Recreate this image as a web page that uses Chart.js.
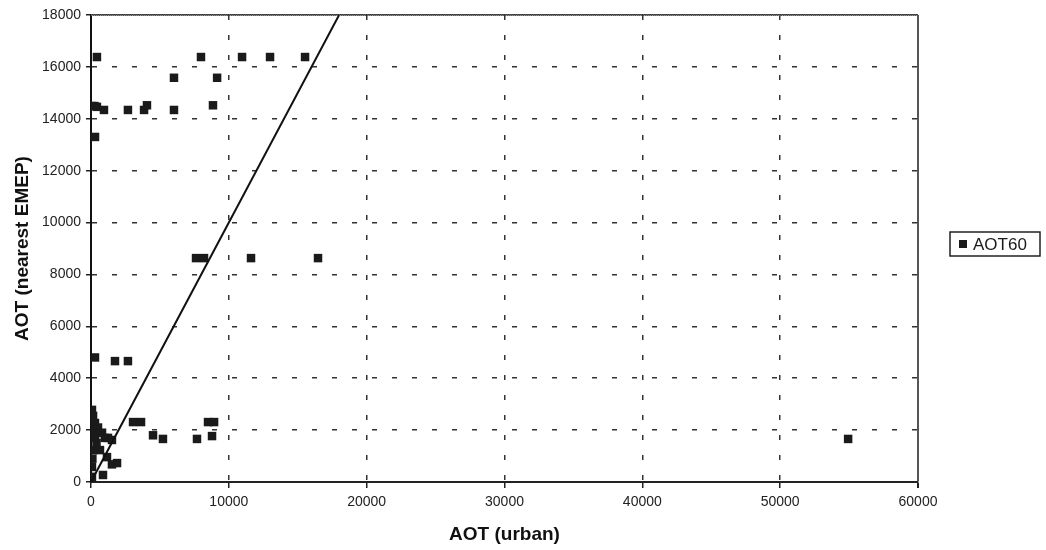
<!DOCTYPE html>
<html>
<head>
<meta charset="utf-8">
<script src="https://cdn.jsdelivr.net/npm/chart.js@4/dist/chart.umd.min.js"></script>
<style>
  body { margin: 0; background: #fff; }
  #wrap { width: 1046px; height: 550px; }
</style>
</head>
<body>
<div id="wrap"><canvas id="chart" width="1046" height="550"></canvas></div>
<script>
// AOT60 points: urban value (x) vs nearest EMEP station (y)
const urbanAot = [
  430, 7980, 10960, 12990, 15530,
  6020, 9150,
  70, 250, 430, 940, 2680, 3850, 4060, 6020, 8850,
  290,
  7620, 8200, 11610, 16470,
  290, 1740, 2680,
  3050, 3630, 8490, 8930,
  4500, 5220, 7690, 8780, 54930,
  70, 150, 290, 510, 800, 1230, 1520, 70, 100, 300, 400, 1000,
  150, 650, 1160, 1890, 1520, 70, 870, 70, 50, 100
];
const emepAot = [
  16380, 16380, 16380, 16380, 16380,
  15580, 15580,
  14490, 14490, 14460, 14340, 14340, 14340, 14520, 14340, 14520,
  13300,
  8630, 8630, 8630, 8630,
  4800, 4660, 4660,
  2310, 2310, 2310, 2310,
  1800, 1660, 1660, 1770, 1660,
  2780, 2550, 2275, 2100, 1900, 1700, 1620, 2000, 1700, 1800, 1500, 1700,
  1230, 1230, 960, 730, 680, 580, 270, 200, 0, 900
];
// 1:1 reference line
const lineX = [0, 18000];
const lineY = [0, 18000];

const xTicks = [0, 10000, 20000, 30000, 40000, 50000, 60000];
const yTicks = [0, 2000, 4000, 6000, 8000, 10000, 12000, 14000, 16000, 18000];

const seriesName = 'AOT60';

const points = urbanAot.map((v, i) => ({ x: v, y: emepAot[i] }));
const linePts = lineX.map((v, i) => ({ x: v, y: lineY[i] }));

// frame on top/right plus the boxed legend
const framePlugin = {
  id: 'frame',
  afterDraw(chart) {
    const c = chart.ctx;
    const a = chart.chartArea;
    c.save();
    c.strokeStyle = '#555';
    c.lineWidth = 2;
    c.setLineDash([1, 1]);
    c.beginPath();
    c.moveTo(a.left, a.top);
    c.lineTo(a.right, a.top);
    c.lineTo(a.right, a.bottom);
    c.stroke();
    c.setLineDash([]);

    // legend box
    c.strokeStyle = '#222';
    c.lineWidth = 1.5;
    c.strokeRect(950, 232, 90, 24);
    c.fillStyle = '#1a1a1a';
    c.fillRect(959, 240, 8, 8);
    c.font = '17px "Liberation Sans", Arial, sans-serif';
    c.textBaseline = 'middle';
    c.fillText(seriesName, 973, 245);
    c.restore();
  }
};

const tickFont = { family: '"Liberation Sans", Arial, sans-serif', size: 14 };
const titleFont = { family: '"Liberation Sans", Arial, sans-serif', size: 19, weight: 'bold' };
const plain = v => String(v);

new Chart(document.getElementById('chart'), {
  type: 'scatter',
  data: {
    datasets: [{
      label: seriesName,
      data: points,
      pointStyle: 'rect',
      pointRadius: 6,
      pointHoverRadius: 6,
      backgroundColor: '#1a1a1a',
      borderColor: '#1a1a1a',
      borderWidth: 0,
      order: 2
    }, {
      label: 'fit',
      data: linePts,
      showLine: true,
      borderColor: '#111',
      borderWidth: 2,
      pointRadius: 0,
      order: 1
    }]
  },
  options: {
    responsive: false,
    animation: false,
    layout: { padding: { top: 15, right: 128, left: 0, bottom: 0 } },
    plugins: {
      legend: { display: false },
      tooltip: { enabled: false }
    },
    scales: {
      x: {
        type: 'linear',
        min: 0,
        max: 60000,
        afterFit: s => { s.height = 68; },
        afterBuildTicks: s => { s.ticks = xTicks.map(v => ({ value: v })); },
        ticks: { font: tickFont, color: '#222', padding: 6, maxRotation: 0, callback: plain },
        grid: {
          color: c => (c.tick && c.tick.value === 0) ? 'rgba(0,0,0,0)' : (c.tick && c.tick.value === 60000 ? '#555' : '#333'),
          lineWidth: c => (c.tick && c.tick.value === 60000) ? 2 : 1.5,
          tickLength: 6,
          tickColor: '#222'
        },
        border: {
          display: true, color: '#222', width: 2,
          dash: c => (c.tick && c.tick.value === 60000) ? [1, 1] : [5, 15]
        },
        title: { display: true, text: 'AOT (urban)', font: titleFont, color: '#111', padding: { top: 0, bottom: 4 } }
      },
      y: {
        type: 'linear',
        min: 0,
        max: 18000,
        afterFit: s => { s.width = 91; },
        afterBuildTicks: s => { s.ticks = yTicks.map(v => ({ value: v })); },
        ticks: { font: tickFont, color: '#222', padding: 5, callback: plain },
        grid: {
          color: c => (c.tick && c.tick.value === 0) ? 'rgba(0,0,0,0)' : '#333',
          lineWidth: 1.5,
          tickLength: 5,
          tickColor: '#222'
        },
        border: {
          display: true, color: '#111', width: 2,
          dash: c => (c.tick && c.tick.value === 18000) ? [1, 1] : [5, 15]
        },
        title: { display: true, text: 'AOT (nearest EMEP)', font: titleFont, color: '#111', padding: { top: 11, bottom: 0 } }
      }
    }
  },
  plugins: [framePlugin]
});
</script>
</body>
</html>
